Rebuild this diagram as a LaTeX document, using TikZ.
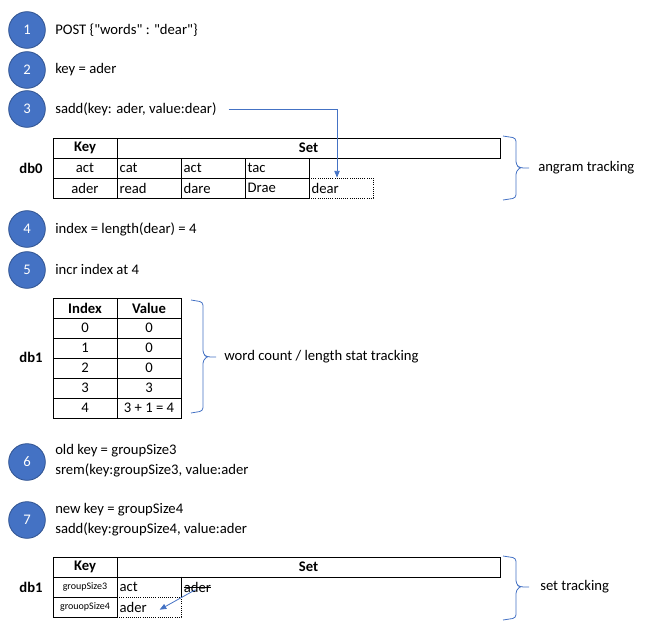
\documentclass[tikz,border=0pt]{standalone}
\usepackage{fontspec}
\setmainfont{Carlito}
\newfontfamily\plainquotes{Carlito}
\definecolor{stepblue}{RGB}{68, 114, 196}
\definecolor{stepedge}{RGB}{47, 82, 143}
\usetikzlibrary{arrows.meta, calc}

\begin{document}
\begin{tikzpicture}[
        x=0.75pt, y=-0.75pt,
        stepdot/.style={circle, fill=stepblue, draw=stepedge, line width=0.6pt,
                        minimum size=27.5pt, inner sep=0pt, text=white,
                        font=\fontsize{11}{13}\selectfont},
        note/.style={anchor=west, inner sep=0pt, align=left,
                     font=\fontsize{11}{15}\selectfont},
        cell/.style={draw, line width=0.6pt, minimum width=48pt, minimum height=15pt,
                     inner sep=0pt, font=\fontsize{11}{13}\selectfont},
        setcell/.style={cell, inner xsep=2pt, text width=44pt, align=left},
        newcell/.style={setcell, densely dotted},
        tiny/.style={font=\fontsize{7.5}{9}\selectfont},
        dbname/.style={font=\fontsize{11}{13}\selectfont\bfseries},
        bracket/.style={stepblue, line width=0.6pt, rounded corners=2.5pt},
        flow/.style={-{Triangle[length=5pt, width=4pt]}, stepblue, line width=0.6pt}
    ]
        \useasboundingbox (0,0) rectangle (653,643);

        % Steps 1-3
        \node[stepdot] (n1) at (27,30) {1};
        \node[note] (t1) at (55,30) {\plainquotes POST \{"words" : "dear"\}};
        \node[stepdot] (n2) at (27,70) {2};
        \node[note] (t2) at (55,70) {key = ader};
        \node[stepdot] (n3) at (27,109) {3};
        \node[note] (t3) at (55,109) {sadd(key: ader, value:dear)};

        % db0: anagram sets
        \node[dbname] (db0) at (31,168) {db0};
        \node[newcell] (dear) at (341,188) {dear};
        \node[cell] (k0) at (85,148) {\textbf{Key}};
        \node[cell, minimum width=287.25pt] (s0) at (308.5,148) {\textbf{Set}};
        \node[cell] (act) at (85,168) {act};
        \node[setcell] (cat) at (149,168) {cat};
        \node[setcell] (act2) at (213,168) {act};
        \node[setcell] (tac) at (277,168) {tac};
        \node[cell] (ader) at (85,188) {ader};
        \node[setcell] (read) at (149,188) {read};
        \node[setcell] (dare) at (213,188) {dare};
        \node[setcell] (drae) at (277,188) {Drae};
        \draw[flow] ([xshift=9pt]t3.east) -| ([xshift=-3pt]dear.north);

        \draw[bracket] (503,136) -- (516,138) -- (516,165) -- (520,168) -- (529,168)
                       (520,168) -- (516,171) -- (516,198) -- (503,200);
        \node[note] (b0) at (538,168) {angram tracking};

        % Steps 4-5
        \node[stepdot] (n4) at (27,229) {4};
        \node[note] (t4) at (55,229) {index = length(dear) = 4};
        \node[stepdot] (n5) at (27,270) {5};
        \node[note] (t5) at (55,269) {incr index at 4};

        % db1: length counts
        \node[dbname] (db1) at (31,357) {db1};
        \node[cell] (ih) at (85,308) {\textbf{Index}};
        \node[cell] (vh) at (149,308) {\textbf{Value}};
        \foreach \i/\v in {0/0, 1/0, 2/0, 3/3, 4/{3 + 1 = 4}} {
            \node[cell] (i\i) at (85,328+20*\i) {\i};
            \node[cell] (v\i) at (149,328+20*\i) {\v};
        }

        \draw[bracket] (191,300) -- (203,302) -- (203,354) -- (207,357) -- (216,357)
                       (207,357) -- (203,360) -- (203,411) -- (191,413);
        \node[note] (b1) at (224,357) {word count / length stat tracking};

        % Steps 6-7
        \node[stepdot] (n6) at (27,462) {6};
        \node[note] (t6) at (55,461) {old key = groupSize3\\srem(key:groupSize3, value:ader};
        \node[stepdot] (n7) at (27,520) {7};
        \node[note] (t7) at (55,520) {new key = groupSize4\\sadd(key:groupSize4, value:ader};

        % db1: group sets
        \node[dbname] (db1b) at (31,587) {db1};
        \node[cell] (k2) at (85,567) {\textbf{Key}};
        \node[cell, minimum width=287.25pt] (s2) at (308.5,567) {\textbf{Set}};
        \node[cell, tiny] (g3) at (85,587) {groupSize3};
        \node[setcell, draw=none] (act3) at (149,587) {act};
        \draw[line width=0.6pt] (act3.north east) -- (act3.south east);
        \node[anchor=west, inner sep=2pt, font=\fontsize{11}{13}\selectfont] (gone) at (181,587) {ader};
        \draw[line width=0.6pt] ([xshift=2pt]gone.west) -- ([xshift=-2pt]gone.east);
        \node[cell, tiny] (g4) at (85,607) {grouopSize4};
        \node[newcell] (moved) at (149,607) {ader};
        \draw[flow] ([xshift=-1.5pt, yshift=-2pt]gone.center) -- ([xshift=8pt, yshift=-2pt]moved.center);

        \draw[bracket] (503,556) -- (516,558) -- (516,584) -- (520,587) -- (529,587)
                       (520,587) -- (516,590) -- (516,618) -- (503,620);
        \node[note] (b2) at (540,587) {set tracking};
    \end{tikzpicture}
\end{document}
